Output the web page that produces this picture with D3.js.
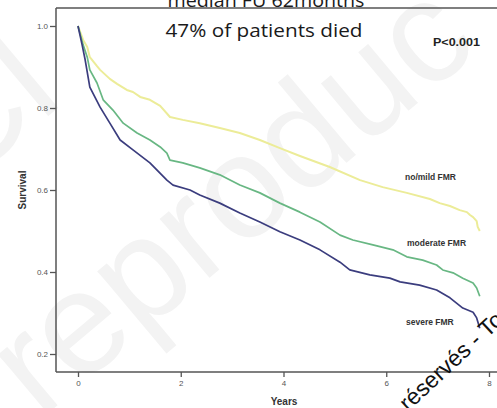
<!DOCTYPE html>
<html>
<head>
<meta charset="utf-8">
<script src="https://cdn.jsdelivr.net/npm/d3@7/dist/d3.min.js"></script>
<style>
  html, body { margin: 0; padding: 0; background: #fff; }
  svg { display: block; }
</style>
</head>
<body>
<div id="chart"></div>
<script>
// Kaplan-Meier survival by FMR grade (years, survival proportion)
const noMildYears = [0, 0.10, 0.18, 0.23, 0.37, 0.43, 0.62, 0.76, 0.95, 1.07, 1.21, 1.40, 1.60, 1.79, 2.04, 2.37, 2.76, 3.15, 3.54, 3.93, 4.32, 4.90, 5.49, 5.93, 6.40, 6.85, 7.04, 7.24, 7.43, 7.57, 7.63, 7.69, 7.76, 7.78, 7.82];
const noMildSurv  = [1.000, 0.966, 0.949, 0.924, 0.902, 0.893, 0.871, 0.859, 0.844, 0.839, 0.827, 0.820, 0.805, 0.778, 0.771, 0.763, 0.751, 0.739, 0.722, 0.702, 0.683, 0.656, 0.624, 0.607, 0.593, 0.578, 0.568, 0.561, 0.551, 0.546, 0.539, 0.534, 0.524, 0.510, 0.500];

const moderateYears = [0, 0.10, 0.18, 0.23, 0.37, 0.49, 0.68, 0.88, 1.15, 1.40, 1.60, 1.73, 1.79, 2.04, 2.37, 2.76, 3.15, 3.54, 3.93, 4.32, 4.71, 5.10, 5.35, 5.74, 6.13, 6.40, 6.71, 6.98, 7.10, 7.30, 7.49, 7.69, 7.76, 7.82];
const moderateSurv  = [1.000, 0.954, 0.924, 0.893, 0.861, 0.820, 0.795, 0.763, 0.739, 0.722, 0.705, 0.690, 0.673, 0.666, 0.654, 0.637, 0.612, 0.593, 0.568, 0.546, 0.522, 0.490, 0.478, 0.466, 0.454, 0.437, 0.429, 0.417, 0.405, 0.398, 0.385, 0.373, 0.361, 0.341];

const severeYears = [0, 0.08, 0.14, 0.23, 0.43, 0.62, 0.82, 1.07, 1.40, 1.73, 1.85, 2.18, 2.37, 2.76, 3.15, 3.54, 3.93, 4.32, 4.71, 5.10, 5.29, 5.68, 6.07, 6.27, 6.65, 6.98, 7.24, 7.49, 7.69, 7.76, 7.82];
const severeSurv  = [1.000, 0.954, 0.917, 0.851, 0.802, 0.763, 0.722, 0.698, 0.666, 0.624, 0.612, 0.600, 0.588, 0.568, 0.544, 0.522, 0.498, 0.478, 0.454, 0.424, 0.405, 0.393, 0.385, 0.376, 0.368, 0.356, 0.337, 0.312, 0.302, 0.288, 0.263];

const seriesNames  = ["no/mild FMR", "moderate FMR", "severe FMR"];
const seriesColors = ["#ecec98", "#68b783", "#3b3d7e"];

const xTicks = [0, 2, 4, 6, 8];
const yTicks = [0.2, 0.4, 0.6, 0.8, 1.0];

const titleLines = ["median FU 62months", "47% of patients died"];
const pValueText = "P<0.001";

const W = 497, H = 408;
const svg = d3.select("#chart").append("svg")
  .attr("width", W).attr("height", H)
  .style("font-family", "'Liberation Sans', Arial, sans-serif");

const x = d3.scaleLinear().domain([0, 8]).range([78, 489]);
const y = d3.scaleLinear().domain([0.2, 1.0]).range([354, 26]);

const frameLeft = 56, frameTop = 8, frameBottom = 372;

// faint background watermark
const wm = svg.append("g").attr("fill", "#f3f3f3").style("font-family", "'Liberation Sans', Arial, sans-serif");
wm.append("text")
  .attr("transform", "translate(40,420) rotate(-40)")
  .attr("font-size", 146)
  .text("reproduc");
wm.append("text")
  .attr("transform", "translate(-40,190) rotate(-40)")
  .attr("font-size", 146)
  .text("Cl");

// frame lines
const frame = svg.append("g").attr("stroke", "#555").attr("stroke-width", 1.5).attr("fill", "none");
frame.append("line").attr("x1", frameLeft).attr("x2", frameLeft).attr("y1", frameTop).attr("y2", frameBottom);
frame.append("line").attr("x1", frameLeft).attr("x2", W).attr("y1", frameTop).attr("y2", frameTop);
frame.append("line").attr("x1", frameLeft).attr("x2", W).attr("y1", frameBottom).attr("y2", frameBottom);

// axes
const yAxis = svg.append("g")
  .attr("transform", `translate(${frameLeft},0)`)
  .call(d3.axisLeft(y).tickValues(yTicks).tickFormat(d3.format(".1f")).tickSize(6).tickPadding(2));
const xAxis = svg.append("g")
  .attr("transform", `translate(0,${frameBottom})`)
  .call(d3.axisBottom(x).tickValues(xTicks).tickFormat(d3.format("d")).tickSize(5).tickPadding(3));
[yAxis, xAxis].forEach(g => {
  g.select(".domain").remove();
  g.selectAll(".tick line").attr("stroke", "#555").attr("stroke-width", 1.3);
  g.selectAll(".tick text").attr("fill", "#555").attr("font-size", 8)
    .style("font-family", "'Liberation Sans', Arial, sans-serif");
});

// axis titles
svg.append("text")
  .attr("x", 284).attr("y", 405)
  .attr("text-anchor", "middle")
  .attr("font-size", 10).attr("font-weight", "bold").attr("fill", "#333")
  .text("Years");
svg.append("text")
  .attr("transform", "translate(26,190) rotate(-90)")
  .attr("text-anchor", "middle")
  .attr("font-size", 10).attr("font-weight", "bold").attr("fill", "#333")
  .text("Survival");

// survival curves (many small steps, drawn through the read-off points)
const series = [
  { years: noMildYears, surv: noMildSurv },
  { years: moderateYears, surv: moderateSurv },
  { years: severeYears, surv: severeSurv }
];
const line = d3.line()
  .x(d => x(d[0]))
  .y(d => y(d[1]))
  .curve(d3.curveLinear);
series.forEach((s, i) => {
  svg.append("path")
    .datum(s.years.map((t, k) => [t, s.surv[k]]))
    .attr("d", line)
    .attr("fill", "none")
    .attr("stroke", seriesColors[i])
    .attr("stroke-width", i === 0 ? 2 : 1.7)
    .attr("stroke-linejoin", "round");
});

// curve labels
const labelPos = [[405, 180], [407, 246], [406, 325]];
seriesNames.forEach((name, i) => {
  svg.append("text")
    .attr("x", labelPos[i][0]).attr("y", labelPos[i][1])
    .attr("font-size", 8.5).attr("font-weight", "bold").attr("fill", "#333")
    .text(name);
});

// p-value
svg.append("text")
  .attr("x", 433).attr("y", 46)
  .attr("font-size", 11).attr("font-weight", "bold").attr("fill", "#222")
  .attr("textLength", 47).attr("lengthAdjust", "spacingAndGlyphs")
  .text(pValueText);

// headline
svg.append("text")
  .attr("x", 266).attr("y", 7)
  .attr("text-anchor", "middle")
  .attr("font-size", 18.5).attr("fill", "#1a1a1a")
  .style("font-family", "'Open Sans', sans-serif")
  .attr("textLength", 197).attr("lengthAdjust", "spacingAndGlyphs")
  .text(titleLines[0]);
svg.append("text")
  .attr("x", 264).attr("y", 37)
  .attr("text-anchor", "middle")
  .attr("font-size", 18.5).attr("fill", "#1a1a1a")
  .style("font-family", "'Open Sans', sans-serif")
  .attr("textLength", 197).attr("lengthAdjust", "spacingAndGlyphs")
  .text(titleLines[1]);

// foreground watermark fragment
svg.append("text")
  .attr("transform", "translate(408,412) rotate(-43)")
  .attr("font-size", 23).attr("fill", "#111")
  .text("réservés - Toute");
</script>
</body>
</html>
